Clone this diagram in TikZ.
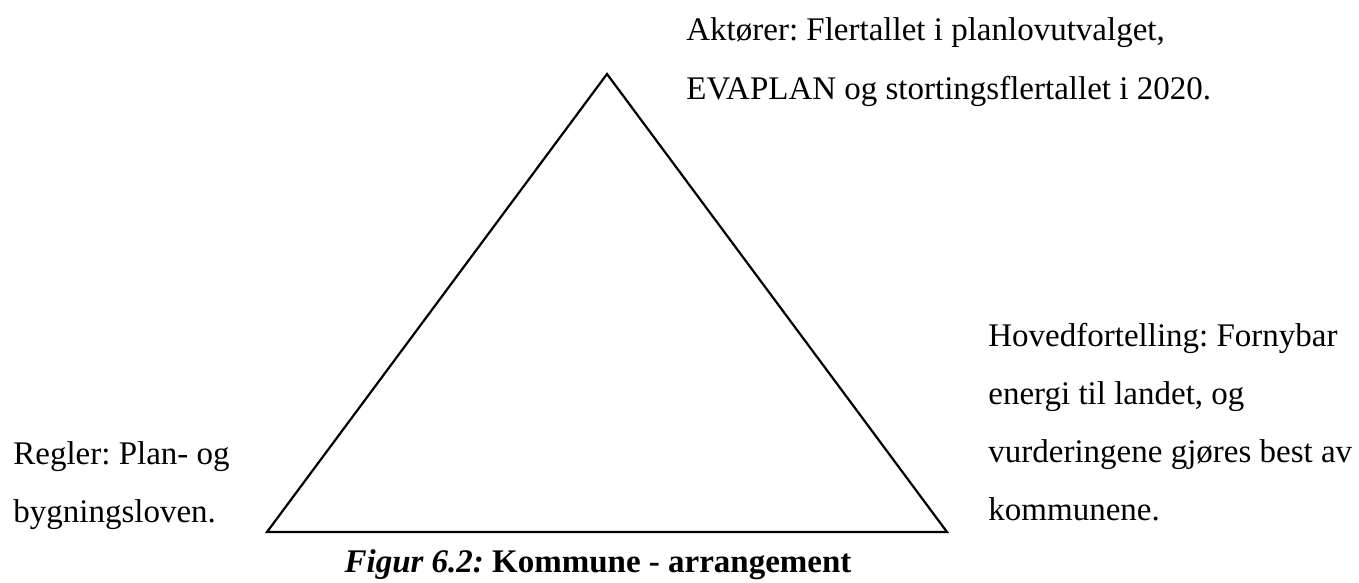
\documentclass[tikz,border=0pt]{standalone}
\usepackage{fontspec}
\setmainfont{Liberation Serif}
\frenchspacing
\usetikzlibrary{positioning}
\tikzset{
  % --- text blocks
  txt/.style     = {anchor=base west, inner sep=0pt, align=left,
                    font=\fontsize{16.5}{29}\selectfont},
  figcaption/.style = {anchor=base, inner sep=0pt,
                    font=\fontsize{16.5}{20}\selectfont\bfseries},
  % --- the triangle
  tri/.style     = {draw=black, line width=1.1pt, line join=miter},
}
\begin{document}
\begin{tikzpicture}[x=0.5pt, y=-0.5pt]
  \useasboundingbox (0,0) rectangle (1359,583);

  \coordinate (apex)  at (607,74);
  \coordinate (left)  at (267,532);
  \coordinate (right) at (947,532);
  \draw[tri] (apex) -- (left) -- (right) -- cycle;

  % base anchor = baseline of the last line
  \node[txt] (akt) at (686,99) {Aktører: Flertallet i planlovutvalget,\\EVAPLAN og stortingsflertallet i 2020.};
  \node[txt] (hov) at (988,520) {Hovedfortelling: Fornybar\\energi til landet, og\\vurderingene gjøres best av\\kommunene.};
  \node[txt] (reg) at (13,522) {Regler: Plan- og\\bygningsloven.};

  \node[figcaption] (fig) at (598,572) {\textit{Figur 6.2:} Kommune - arrangement};
\end{tikzpicture}
\end{document}
